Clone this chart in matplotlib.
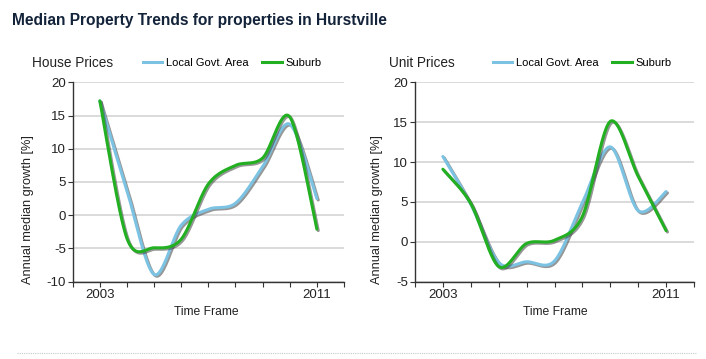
import numpy as np
import matplotlib
matplotlib.use("Agg")
import matplotlib.pyplot as plt
import matplotlib.patheffects as pe
from matplotlib.lines import Line2D

# ---- data ----
years = [2003, 2004, 2005, 2006, 2007, 2008, 2009, 2010, 2011]

house_lga = [17.2, 3.7, -8.9, -1.5, 0.9, 1.8, 7.3, 13.7, 2.5]
house_suburb = [17.2, -3.5, -4.9, -3.6, 4.7, 7.5, 8.6, 14.8, -2.1]

unit_lga = [10.7, 4.7, -2.6, -2.5, -2.4, 4.9, 11.9, 3.9, 6.3]
unit_suburb = [9.1, 4.8, -3.1, -0.2, 0.2, 3.2, 15.1, 8.2, 1.4]

series_labels = ["Local Govt. Area", "Suburb"]
panel_titles = ["House Prices", "Unit Prices"]

# ---- style ----
W, H = 706, 359
BLUE = "#7cc3e3"
GREEN = "#22b022"
GRID = "#d4d4d4"
AXIS = "#333333"
TITLE_COLOR = "#13233a"
TENSION = 0.52  # GDI+ style cardinal spline

plt.rcParams["font.family"] = ["Liberation Sans", "DejaVu Sans"]
plt.rcParams["axes.unicode_minus"] = False


def cardinal_spline(xs, ys, tension=TENSION, n=40):
    pts = np.column_stack([xs, ys]).astype(float)
    t = 0.3 * tension
    out = []
    for i in range(len(pts) - 1):
        p0, p1 = pts[i], pts[i + 1]
        prev = pts[i - 1] if i > 0 else p0
        nxt = pts[i + 2] if i + 2 < len(pts) else p1
        c1 = p0 + t * (p1 - prev)
        c2 = p1 - t * (nxt - p0)
        s = np.linspace(0, 1, n)[:, None]
        seg = ((1 - s) ** 3) * p0 + 3 * ((1 - s) ** 2) * s * c1 + 3 * (1 - s) * s ** 2 * c2 + s ** 3 * p1
        out.append(seg if i == 0 else seg[1:])
    out = np.vstack(out)
    return out[:, 0], out[:, 1]


def px(x, y):
    """pixel position (from top-left) -> figure fraction"""
    return x / W, 1 - y / H


fig = plt.figure(figsize=(W / 100, H / 100), dpi=100)

# page furniture
fig.text(*px(12, 20), "Median Property Trends for properties in Hurstville",
         fontsize=11.2, fontweight="bold", color=TITLE_COLOR, va="center", ha="left")
fig.add_artist(Line2D([17 / W, 696 / W], [1 - 353 / H] * 2, transform=fig.transFigure,
                      color="#c8c8c8", lw=0.8, ls=(0, (1, 1))))

panels = [
    dict(left=72.7, right=344, ylim=(-10, 20), lga=house_lga, sub=house_suburb,
         title=panel_titles[0], title_x=32, leg_x=142.7, ylab_x=28, xlab_x=206.7),
    dict(left=415, right=694, ylim=(-5, 20), lga=unit_lga, sub=unit_suburb,
         title=panel_titles[1], title_x=389, leg_x=492.7, ylab_x=376.7, xlab_x=555),
]

top, bottom = 82.3, 281.7
shadow = [pe.SimpleLineShadow(offset=(1, -1), shadow_color="#404040", alpha=0.55),
          pe.Normal()]

for p in panels:
    ax = fig.add_axes([p["left"] / W, 1 - bottom / H, (p["right"] - p["left"]) / W, (bottom - top) / H])
    ax.set_xlim(2002, 2012)
    ax.set_ylim(*p["ylim"])
    ax.set_yticks(np.arange(p["ylim"][0], 21, 5))
    ax.set_xticks(range(2002, 2013))
    ax.set_xticklabels(["2003" if y == 2003 else "2011" if y == 2011 else "" for y in range(2002, 2013)])
    ax.tick_params(axis="both", direction="out", length=3.5, width=0.8, color=AXIS,
                   labelsize=9.5, labelcolor="#222222")
    ax.tick_params(axis="x", pad=2)
    ax.tick_params(axis="y", pad=1.5)
    for side in ("top", "right"):
        ax.spines[side].set_visible(False)
    for side in ("left", "bottom"):
        ax.spines[side].set_color(AXIS)
        ax.spines[side].set_linewidth(1.0)
    ax.grid(axis="y", color=GRID, lw=1.2)
    ax.set_axisbelow(True)

    x1, y1 = cardinal_spline(years, p["lga"])
    x2, y2 = cardinal_spline(years, p["sub"])
    ax.plot(x1, y1, color=BLUE, lw=2.2, solid_capstyle="round", path_effects=shadow,
            label=series_labels[0], clip_on=False)
    ax.plot(x2, y2, color=GREEN, lw=2.2, solid_capstyle="round", path_effects=shadow,
            label=series_labels[1], clip_on=False)

    fig.text(*px(p["title_x"], 62.7), p["title"], fontsize=9.8, va="center", ha="left", color="#222222")
    ax.legend(handles=[Line2D([], [], color=BLUE, lw=2.2), Line2D([], [], color=GREEN, lw=2.2)],
              labels=series_labels, ncol=2, frameon=False, fontsize=8,
              loc="center left", bbox_to_anchor=px(p["leg_x"], 63.3),
              bbox_transform=fig.transFigure, borderpad=0, borderaxespad=0,
              handlelength=1.78, handletextpad=0.3, columnspacing=1.25)
    fig.text(*px(p["ylab_x"], 210), "Annual median growth [%]", rotation=90,
             fontsize=9.2, va="center", ha="center", color="#222222")
    fig.text(*px(p["xlab_x"], 311.7), "Time Frame", fontsize=8.7, va="center", ha="center", color="#222222")

fig.savefig("out.png", dpi=100)
